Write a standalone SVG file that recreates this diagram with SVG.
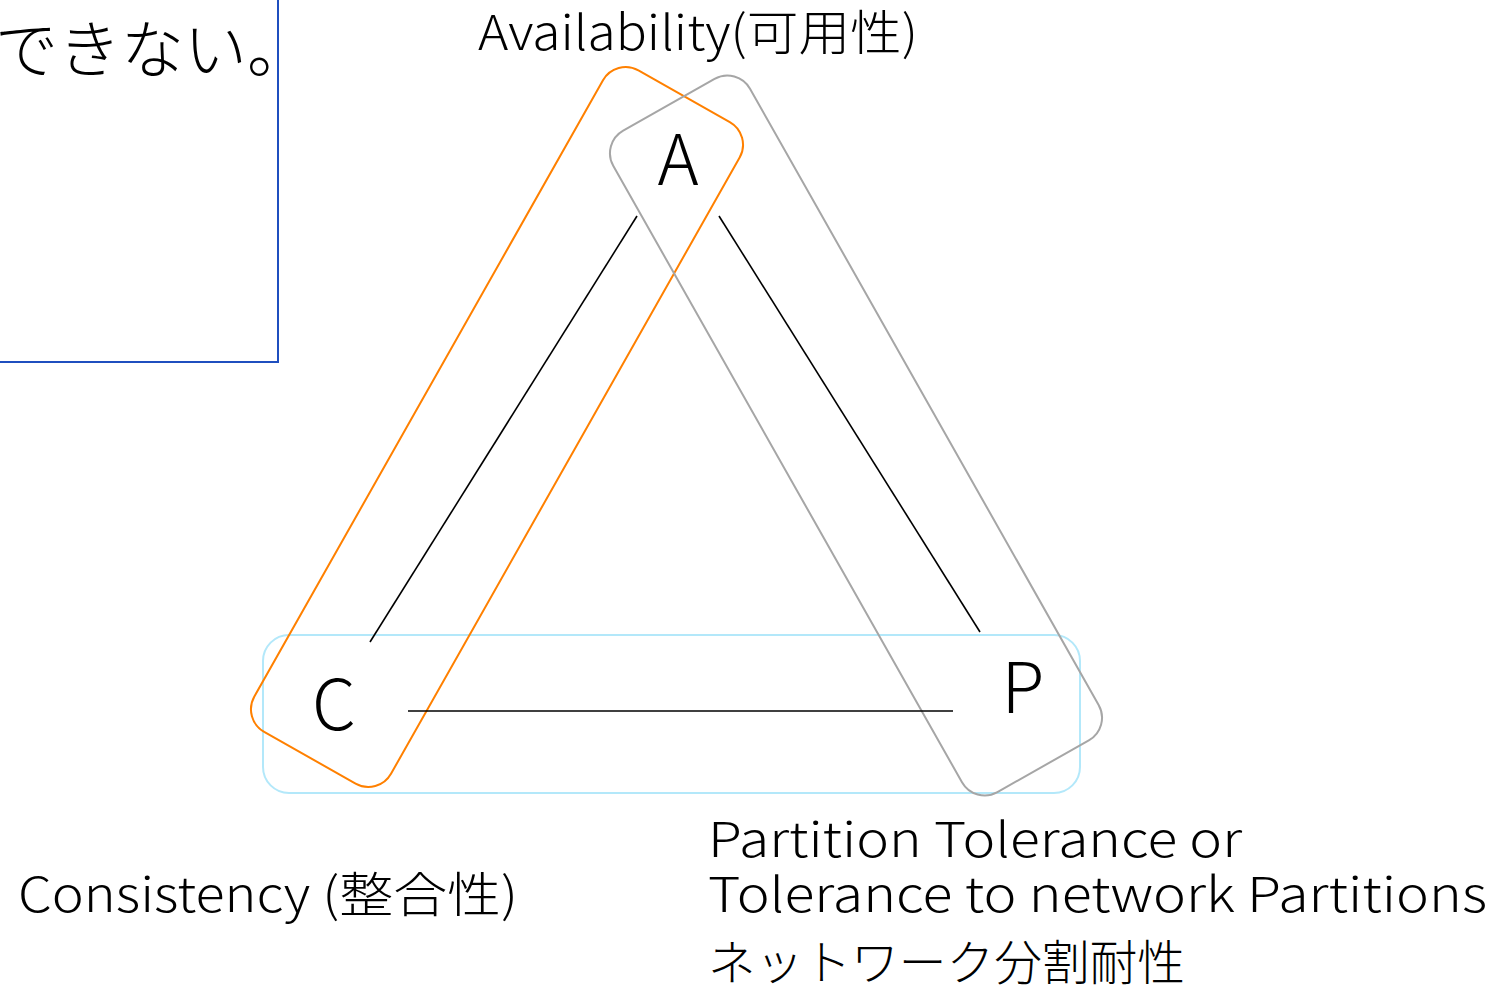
<svg xmlns="http://www.w3.org/2000/svg" width="1512" height="987" viewBox="0 0 1512 987">
<style>
.t{font-family:"Noto Sans CJK JP","Noto Sans",sans-serif;font-weight:300;fill:#000}
.lbl{font-size:48px}
.big{font-size:70px;text-anchor:middle}
.edge{stroke:#000;stroke-width:1.6;fill:none}
</style>
<rect width="1512" height="987" fill="#fff"/>
<g id="note">
<rect x="-10" y="-10" width="288" height="372" fill="none" stroke="#1f4fbf" stroke-width="2"/>
<text class="t" x="-5" y="72" font-size="63">できない。</text>
</g>
<g id="group-CP">
<rect x="263" y="635" width="817" height="158" rx="26" fill="none" stroke="#b3e8fa" stroke-width="2"/>
</g>
<g id="group-CA">
<rect x="-380" y="-78.5" width="760" height="157" rx="26" fill="none" stroke="#ff8000" stroke-width="2" transform="translate(497 427) rotate(-60.5)"/>
</g>
<g id="group-AP">
<rect x="-380" y="-78.5" width="760" height="157" rx="26" fill="none" stroke="#a6a6a6" stroke-width="2" transform="translate(856 435.5) rotate(60.5)"/>
</g>
<g id="connectors">
<line class="edge" x1="370" y1="642" x2="637" y2="216"/>
<line class="edge" x1="719" y1="216" x2="980" y2="632"/>
<line class="edge" x1="408" y1="711" x2="953" y2="711"/>
</g>
<g id="node-A"><text class="t big" x="678" y="185">A</text></g>
<g id="node-C"><text class="t big" x="334" y="730">C</text></g>
<g id="node-P"><text class="t big" x="1023" y="713">P</text></g>
<g id="label-A"><text class="t lbl" x="478" y="50" textLength="440" lengthAdjust="spacingAndGlyphs">Availability(可用性)</text></g>
<g id="label-C"><text class="t lbl" x="18" y="912" textLength="500" lengthAdjust="spacingAndGlyphs">Consistency (整合性)</text></g>
<g id="label-P">
<text class="t lbl" x="708" y="857" textLength="534" lengthAdjust="spacingAndGlyphs">Partition Tolerance or</text>
<text class="t lbl" x="708" y="912" textLength="779" lengthAdjust="spacingAndGlyphs">Tolerance to network Partitions</text>
<text class="t lbl" x="708" y="980" textLength="477" lengthAdjust="spacingAndGlyphs">ネットワーク分割耐性</text>
</g>
</svg>
